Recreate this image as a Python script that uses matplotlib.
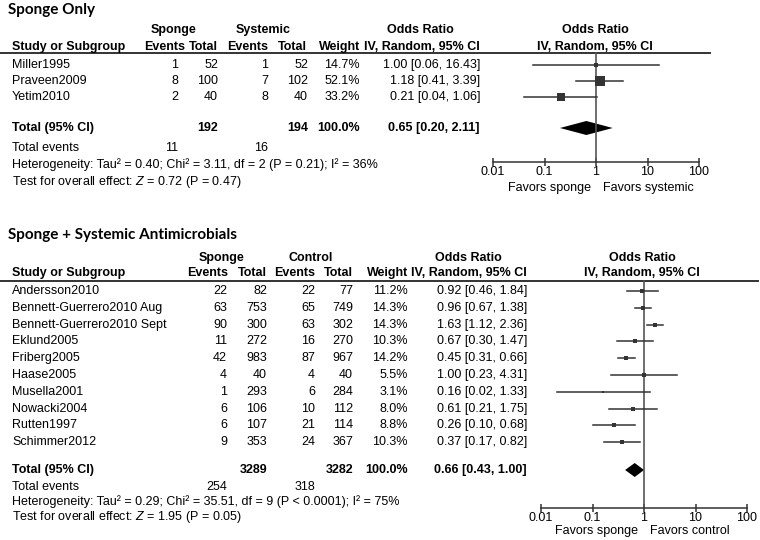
"""
Forest plots (RevMan style): sponge only vs systemic, and sponge + systemic
antimicrobials vs control. Odds ratios, IV random effects, 95% CI.
"""

import matplotlib

matplotlib.use("Agg")
import matplotlib.pyplot as plt

plt.rcParams["font.family"] = ["Liberation Sans", "DejaVu Sans"]
plt.rcParams["mathtext.fontset"] = "custom"
plt.rcParams["mathtext.rm"] = "Liberation Sans"
plt.rcParams["mathtext.it"] = "Liberation Sans:italic"

W, H = 760, 540
FS = 9
DARK = "#333333"

# ---- panel 1: sponge only ----
top_studies = ["Miller1995", "Praveen2009", "Yetim2010"]
top_sponge_events = [1, 8, 2]
top_sponge_total = [52, 100, 40]
top_sys_events = [1, 7, 8]
top_sys_total = [52, 102, 40]
top_weight = [14.7, 52.1, 33.2]
top_or = [1.00, 1.18, 0.21]
top_lo = [0.06, 0.41, 0.04]
top_hi = [16.43, 3.39, 1.06]
top_pooled = [0.65, 0.20, 2.11]
top_het = "Heterogeneity: Tau² = 0.40; Chi² = 3.11, df = 2 (P = 0.21); I² = 36%"
top_test = "Test for overall effect: $Z$ = 0.72 (P = 0.47)"

# ---- panel 2: sponge + systemic antimicrobials ----
bot_studies = ["Andersson2010", "Bennett-Guerrero2010 Aug", "Bennett-Guerrero2010 Sept",
               "Eklund2005", "Friberg2005", "Haase2005", "Musella2001", "Nowacki2004",
               "Rutten1997", "Schimmer2012"]
bot_sponge_events = [22, 63, 90, 11, 42, 4, 1, 6, 6, 9]
bot_sponge_total = [82, 753, 300, 272, 983, 40, 293, 106, 107, 353]
bot_ctrl_events = [22, 65, 63, 16, 87, 4, 6, 10, 21, 24]
bot_ctrl_total = [77, 749, 302, 270, 967, 40, 284, 112, 114, 367]
bot_weight = [11.2, 14.3, 14.3, 10.3, 14.2, 5.5, 3.1, 8.0, 8.8, 10.3]
bot_or = [0.92, 0.96, 1.63, 0.67, 0.45, 1.00, 0.16, 0.61, 0.26, 0.37]
bot_lo = [0.46, 0.67, 1.12, 0.30, 0.31, 0.23, 0.02, 0.21, 0.10, 0.17]
bot_hi = [1.84, 1.38, 2.36, 1.47, 0.66, 4.31, 1.33, 1.75, 0.68, 0.82]
bot_pooled = [0.66, 0.43, 1.00]
bot_het = "Heterogeneity: Tau² = 0.29; Chi² = 35.51, df = 9 (P < 0.0001); I² = 75%"
bot_test = "Test for overall effect: $Z$ = 1.95 (P = 0.05)"

ticks = [0.01, 0.1, 1, 10, 100]
tick_labels = ["0.01", "0.1", "1", "10", "100"]


def draw_panel(fig, tab, p, studies, ev1, tot1, ev2, tot2, weight, est, lo, hi, pooled,
               het, test):
    """Draw one table + forest plot. p holds the pixel layout of the panel."""
    cols = p["cols"]
    tab.text(8, p["title_y"], p["title"], fontsize=11, fontweight="bold",
             family=["Lato", "DejaVu Sans"], va="center")
    # headers
    h1, h2 = p["head_y"]
    tab.text(p["grp1_x"], h1, "Sponge", fontsize=FS, fontweight="bold", ha="center", va="center")
    tab.text(p["grp2_x"], h1, p["grp2"], fontsize=FS, fontweight="bold", ha="center", va="center")
    tab.text(p["or_x"], h1, "Odds Ratio", fontsize=FS, fontweight="bold", ha="center", va="center")
    tab.text(p["for_x"], h1, "Odds Ratio", fontsize=FS, fontweight="bold", ha="center", va="center")
    tab.text(12, h2, "Study or Subgroup", fontsize=FS, fontweight="bold", va="center")
    for x, lab in zip(p["head_cols"], ["Events", "Total", "Events", "Total", "Weight",
                                       "IV, Random, 95% CI"]):
        tab.text(x, h2, lab, fontsize=FS, fontweight="bold", ha="right", va="center")
    tab.text(p["for_x"], h2, "IV, Random, 95% CI", fontsize=FS, fontweight="bold",
             ha="center", va="center")
    tab.plot([0, p["line_end"]], [p["line_y"], p["line_y"]], color=DARK, lw=1.4)

    # study rows
    for i, name in enumerate(studies):
        y = p["row0"] + i * p["row_h"]
        tab.text(12, y, name, fontsize=FS, va="center")
        vals = [str(ev1[i]), str(tot1[i]), str(ev2[i]), str(tot2[i]), f"{weight[i]:.1f}%",
                f"{est[i]:.2f} [{lo[i]:.2f}, {hi[i]:.2f}]"]
        for x, v in zip(cols, vals):
            tab.text(x, y, v, fontsize=FS, ha="right", va="center")

    ty = p["total_y"]
    tab.text(12, ty, "Total (95% CI)", fontsize=FS, fontweight="bold", va="center")
    tot_vals = [str(sum(tot1)), str(sum(tot2)), "100.0%",
                f"{pooled[0]:.2f} [{pooled[1]:.2f}, {pooled[2]:.2f}]"]
    for x, v in zip([cols[1], cols[3], cols[4], cols[5]], tot_vals):
        tab.text(x, ty, v, fontsize=FS, fontweight="bold", ha="right", va="center")
    ey = p["events_y"]
    tab.text(12, ey, "Total events", fontsize=FS, va="center")
    tab.text(cols[0], ey, str(sum(ev1)), fontsize=FS, ha="right", va="center")
    tab.text(cols[2], ey, str(sum(ev2)), fontsize=FS, ha="right", va="center")
    tab.text(12, p["het_y"], het, fontsize=FS, va="center")
    tab.text(12, p["test_y"], test, fontsize=FS, va="center")

    # forest axes, y in pixel units so rows line up with the table
    x0, x1 = p["axis_x"]
    top, bottom = p["line_y"], p["axis_y"]
    ax = fig.add_axes([x0 / W, 1 - bottom / H, (x1 - x0) / W, (bottom - top) / H])
    ax.set_xscale("log")
    ax.set_xlim(0.01, 100)
    ax.set_ylim(bottom, top)
    ax.patch.set_alpha(0)
    for s in ("top", "right", "left"):
        ax.spines[s].set_visible(False)
    ax.spines["bottom"].set_color(DARK)
    ax.spines["bottom"].set_linewidth(1.1)
    ax.set_yticks([])
    ax.set_xticks(ticks)
    ax.set_xticklabels(tick_labels)
    ax.minorticks_off()
    ax.tick_params(axis="x", direction="inout", length=6, width=1.1, color=DARK,
                   labelsize=FS, pad=0)
    ax.plot([1, 1], [top, bottom], color="#555555", lw=1.2, clip_on=False)
    for i in range(len(studies)):
        y = p["row0"] + i * p["row_h"]
        ax.plot([lo[i], hi[i]], [y, y], color=DARK, lw=1.1, clip_on=False)
        side = (2.3 + 0.16 * weight[i]) * 0.72
        ax.plot(est[i], y, marker="s", ms=side, color=DARK, mew=0, clip_on=False)
    ax.fill([pooled[1], pooled[0], pooled[2], pooled[0]], [ty, ty - 7, ty, ty + 7],
            color="black", lw=0)
    fy = p["favors_y"]
    tab.text(p["one_x"] - 5, fy, "Favors sponge", fontsize=FS, ha="right", va="center")
    tab.text(p["one_x"] + 7, fy, p["favors2"], fontsize=FS, ha="left", va="center")


fig = plt.figure(figsize=(W / 100, H / 100), dpi=100)
tab = fig.add_axes([0, 0, 1, 1])
tab.set_xlim(0, W)
tab.set_ylim(H, 0)
tab.axis("off")

panel_top = dict(title="Sponge Only", title_y=10, head_y=(30, 47), grp1_x=174, grp2_x=263,
                 grp2="Systemic", or_x=420, for_x=595,
                 head_cols=[185, 218, 268, 307, 360, 480],
                 cols=[178, 218, 268, 308, 360, 480], line_y=53, line_end=710,
                 row0=65, row_h=16, total_y=128, events_y=148, het_y=165, test_y=182,
                 axis_x=(493, 699), axis_y=162, favors_y=188, one_x=596,
                 favors2="Favors systemic")
panel_bot = dict(title="Sponge + Systemic Antimicrobials", title_y=235, head_y=(258, 273),
                 grp1_x=222, grp2_x=311, grp2="Control", or_x=468, for_x=642,
                 head_cols=[228, 267, 315, 353, 408, 527],
                 cols=[227, 267, 315, 353, 408, 527], line_y=281, line_end=758,
                 row0=291, row_h=16.8, total_y=470, events_y=487, het_y=502, test_y=517,
                 axis_x=(541, 747), axis_y=508, favors_y=531, one_x=643,
                 favors2="Favors control")

draw_panel(fig, tab, panel_top, top_studies, top_sponge_events, top_sponge_total,
           top_sys_events, top_sys_total, top_weight, top_or, top_lo, top_hi, top_pooled,
           top_het, top_test)
draw_panel(fig, tab, panel_bot, bot_studies, bot_sponge_events, bot_sponge_total,
           bot_ctrl_events, bot_ctrl_total, bot_weight, bot_or, bot_lo, bot_hi, bot_pooled,
           bot_het, bot_test)

fig.savefig("out.png", dpi=100)
